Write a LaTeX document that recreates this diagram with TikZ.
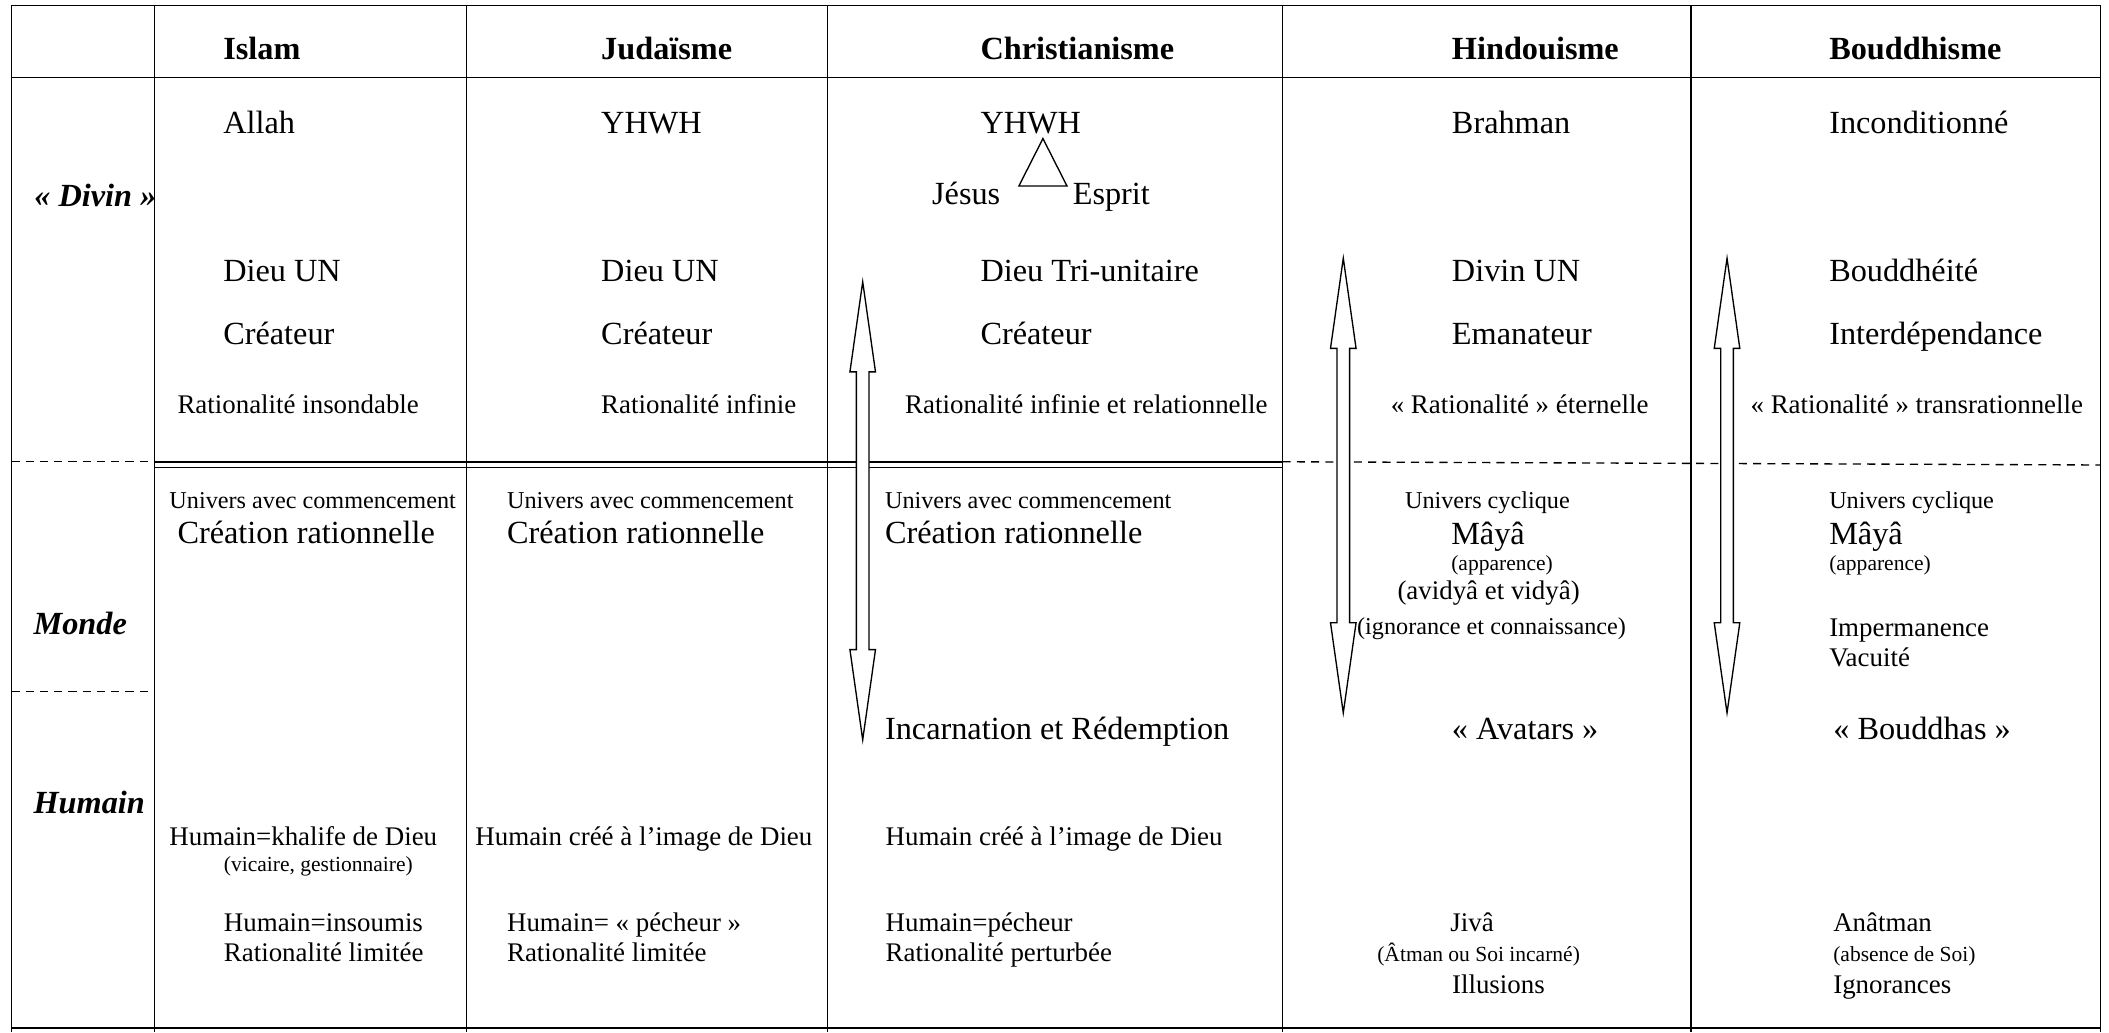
\documentclass[tikz,border=0pt]{standalone}
\usepackage{fontspec}
\setmainfont{Liberation Serif}
\begin{document}
\begin{tikzpicture}[x=0.5pt,y=-0.5pt,
  txt/.style={anchor=base west,inner sep=0pt,outer sep=0pt,font=\fontsize{12}{14}\selectfont},
  sm/.style={txt,font=\fontsize{10}{12}\selectfont},
  xs/.style={txt,font=\fontsize{9}{11}\selectfont},
  xxs/.style={txt,font=\fontsize{8}{10}\selectfont},
  avt/.style={txt,font=\fontsize{10}{12}\selectfont},
  hdr/.style={txt,font=\fontsize{12}{14}\selectfont\bfseries},
  side/.style={txt,font=\fontsize{12}{14}\selectfont\bfseries\itshape},
  rule/.style={line width=0.5pt},
  dbl/.style={line width=0.65pt},
  dsh/.style={line width=0.5pt,dash pattern=on 3pt off 2.3pt},
  dblarrow/.style={draw,line width=0.5pt,fill=white,line join=miter}]
\useasboundingbox (0,0) rectangle (1568,767.3);
% grid
\draw[rule] (8,4) -- (1562,4);
\draw[rule] (8,57.8) -- (1562,57.8);
\foreach \x in {8.5,115,347,615,953.6,1257.3,1561.5}
  \draw[rule] (\x,4) -- (\x,767.3);
\draw[dbl] (115,343.3) -- (953.6,343.3);
\draw[dbl] (115,347.5) -- (953.6,347.5);
\draw[dsh] (8.5,343.3) -- (115,343.3);
\draw[dsh] (953.6,343.3) -- (1561.5,345.7);
\draw[dsh] (8.5,514) -- (115,514);
\draw[line width=0.8pt] (8,764) -- (1562,764);
% double arrows
\foreach \cx/\t/\b in {641.4/209.5/550, 998.7/192/530, 1284/192/530}
  \draw[dblarrow] (\cx,\t) -- (\cx+9.5,\t+67) -- (\cx+4.7,\t+67) -- (\cx+4.7,\b-67)
    -- (\cx+9.5,\b-67) -- (\cx,\b) -- (\cx-9.5,\b-67) -- (\cx-4.7,\b-67)
    -- (\cx-4.7,\t+67) -- (\cx-9.5,\t+67) -- cycle;
% trinity triangle
\draw[line width=0.5pt] (775.4,103) -- (793.3,138.3) -- (757.5,138.3) -- cycle;
% headers
\node[hdr] (h1) at (166,44.6) {Islam};
\node[hdr] (h2) at (447,44.6) {Judaïsme};
\node[hdr] (h3) at (729,44.6) {Christianisme};
\node[hdr] (h4) at (1079.5,44.6) {Hindouisme};
\node[hdr] (h5) at (1360,44.6) {Bouddhisme};
% side labels
\node[side] (sdiv) at (25.5,153.7) {«~Divin~»};
\node[side] (smon) at (25,472) {Monde};
\node[side] (shum) at (25,604.7) {Humain};
% divine rows
\node[txt] (a1) at (166,99) {Allah};
\node[txt] (a2) at (447,99) {YHWH};
\node[txt] (a3) at (729,99) {YHWH};
\node[txt] (a4) at (1079.5,99) {Brahman};
\node[txt] (a5) at (1360,99) {Inconditionné};
\node[txt] (jes) at (693,152.4) {Jésus};
\node[txt] (esp) at (797.6,152.4) {Esprit};
\node[txt] (b1) at (166,209) {Dieu UN};
\node[txt] (b2) at (447,209) {Dieu UN};
\node[txt] (b3) at (729,209) {Dieu Tri-unitaire};
\node[txt] (b4) at (1079.5,209) {Divin UN};
\node[txt] (b5) at (1360,209) {Bouddhéité};
\node[txt] (c1) at (166,256) {Créateur};
\node[txt] (c2) at (447,256) {Créateur};
\node[txt] (c3) at (729,256) {Créateur};
\node[txt] (c4) at (1079.5,256) {Emanateur};
\node[txt] (c5) at (1360,256) {Interdépendance};
\node[sm] (r1) at (132,307.3) {Rationalité insondable};
\node[sm] (r2) at (447,307.3) {Rationalité infinie};
\node[sm] (r3) at (673,307.3) {Rationalité infinie et relationnelle};
\node[sm] (r4) at (1034,307.3) {«~Rationalité~» éternelle};
\node[sm] (r5) at (1301.5,307.3) {«~Rationalité~» transrationnelle};
% world rows
\node[xs] (u1) at (126,378) {Univers avec commencement};
\node[xs] (u2) at (377,378) {Univers avec commencement};
\node[xs] (u3) at (658,378) {Univers avec commencement};
\node[xs] (u4) at (1044.6,378) {Univers cyclique};
\node[xs] (u5) at (1360,378) {Univers cyclique};
\node[txt] (cr1) at (132,404) {Création rationnelle};
\node[txt] (cr2) at (377,404) {Création rationnelle};
\node[txt] (cr3) at (658,404) {Création rationnelle};
\node[txt] (m4) at (1079,404.5) {Mâyâ};
\node[txt] (m5) at (1360,404.5) {Mâyâ};
\node[xxs] (ap4) at (1079,424) {(apparence)};
\node[xxs] (ap5) at (1360,424) {(apparence)};
\node[avt] (av4) at (1039,445.4) {(avidyâ et vidyâ)};
\node[xs] (ig4) at (1009,472) {(ignorance et connaissance)};
\node[sm] (im5) at (1360,472.9) {Impermanence};
\node[sm] (va5) at (1360,495.6) {Vacuité};
\node[txt] (in3) at (658,550) {Incarnation et Rédemption};
\node[txt] (in4) at (1079.5,550) {«~Avatars~»};
\node[txt] (in5) at (1363,550) {«~Bouddhas~»};
% human rows
\node[sm] (k1) at (126,628.3) {Humain=khalife de Dieu};
\node[xxs] (k1b) at (166.5,648) {(vicaire, gestionnaire)};
\node[sm] (k2) at (353.5,628.3) {Humain créé à l’image de Dieu};
\node[sm] (k3) at (658.5,628.3) {Humain créé à l’image de Dieu};
\node[sm] (p1) at (166.5,692.7) {Humain=insoumis};
\node[sm] (l1) at (166.5,715) {Rationalité limitée};
\node[sm] (p2) at (377,692.7) {Humain=~«~pécheur~»};
\node[sm] (l2) at (377,715) {Rationalité limitée};
\node[sm] (p3) at (658.5,692.7) {Humain=pécheur};
\node[sm] (l3) at (658.5,715) {Rationalité perturbée};
\node[sm] (p4) at (1078.4,692.7) {Jivâ};
\node[xxs] (l4) at (1024,715) {(Âtman ou Soi incarné)};
\node[sm] (i4) at (1079.6,738.5) {Illusions};
\node[sm] (p5) at (1363,692.7) {Anâtman};
\node[xxs] (l5) at (1363,715) {(absence de Soi)};
\node[sm] (i5) at (1363,738.5) {Ignorances};
\end{tikzpicture}
\end{document}
